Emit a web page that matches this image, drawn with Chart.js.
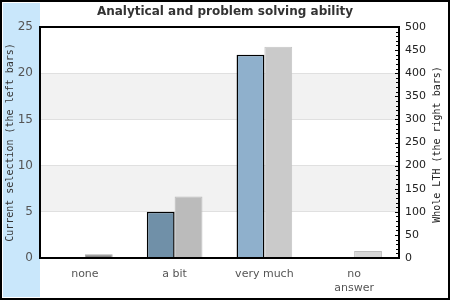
<!DOCTYPE html>
<html>
<head>
<meta charset="utf-8">
<script src="https://cdn.jsdelivr.net/npm/chart.js@4.4.0/dist/chart.umd.min.js"></script>
<style>
  html, body { margin: 0; padding: 0; background: #fff; }
  #wrap { width: 450px; height: 300px; }
</style>
</head>
<body>
<div id="wrap"><canvas id="chart" width="450" height="300"></canvas></div>
<script>
// Analytical and problem solving ability
const categories = ['none', 'a bit', 'very much', ['no', 'answer']];
const currentSelection = [0, 5, 22, 0];      // left axis
const wholeLTH = [8, 133, 457, 15];           // right axis
const leftTicks = [0, 5, 10, 15, 20, 25];
const rightTicks = [0, 50, 100, 150, 200, 250, 300, 350, 400, 450, 500];

const leftColors = ['#8fb0cc', '#7090a8', '#8fb0cc', '#8fb0cc'];
const rightColors = ['#888888', '#bbbbbb', '#cacaca', '#d6d6d6'];
const rightBorders = ['#aaaaaa', '#bbbbbb', '#c4c4c4', '#bdbdbd'];
const rightTitle = 'Whole LTH (the right bars)';

const MONO = '"DejaVu Sans Mono", monospace';
const SANS = '"DejaVu Sans", sans-serif';

// fond bleu, bandes, cadre
const decor = {
  id: 'decor',
  beforeDraw(chart) {
    const { ctx, chartArea: a, scales } = chart;
    ctx.save();
    ctx.fillStyle = '#fff';
    ctx.fillRect(0, 0, chart.width, chart.height);
    ctx.fillStyle = '#c9e7fb';
    ctx.fillRect(3, 3, a.left - 3, 294);
    // bandes grises
    ctx.fillStyle = '#f2f2f2';
    [[5, 10], [15, 20]].forEach(([lo, hi]) => {
      const y1 = scales.y.getPixelForValue(hi), y2 = scales.y.getPixelForValue(lo);
      ctx.fillRect(a.left, y1, a.right - a.left, y2 - y1);
    });
    ctx.restore();
  },
  afterDraw(chart) {
    const { ctx, chartArea: a, scales } = chart;
    ctx.save();
    ctx.strokeStyle = '#000';
    ctx.lineWidth = 1;
    // petits traits de l'axe droit, vers l'intérieur
    for (let v = 0; v <= 500; v += 10) {
      const y = Math.round(scales.y2.getPixelForValue(v)) + 0.5;
      const len = v % 50 === 0 ? 4 : 3;
      ctx.beginPath();
      ctx.moveTo(a.right - len, y);
      ctx.lineTo(a.right, y);
      ctx.stroke();
    }
    ctx.lineWidth = 2;
    ctx.strokeRect(a.left, a.top, a.right - a.left, a.bottom - a.top);
    ctx.strokeRect(1, 1, chart.width - 2, chart.height - 2);
    // titre de l'axe droit, lu de bas en haut
    ctx.translate(437, (a.top + a.bottom) / 2 + 2);
    ctx.rotate(-Math.PI / 2);
    ctx.fillStyle = '#222';
    ctx.font = '10px ' + MONO;
    ctx.textAlign = 'center';
    ctx.textBaseline = 'middle';
    ctx.fillText(rightTitle, 0, 0);
    ctx.restore();
  }
};

new Chart(document.getElementById('chart'), {
  type: 'bar',
  data: {
    labels: categories,
    datasets: [
      {
        label: 'Current selection',
        data: currentSelection,
        yAxisID: 'y',
        backgroundColor: leftColors,
        borderColor: '#000',
        borderWidth: 1.5
      },
      {
        label: 'Whole LTH',
        data: wholeLTH,
        yAxisID: 'y2',
        backgroundColor: rightColors,
        borderColor: rightBorders,
        borderWidth: 1
      }
    ]
  },
  options: {
    responsive: false,
    animation: false,
    layout: { padding: 0 },
    datasets: { bar: { categoryPercentage: 0.62, barPercentage: 1 } },
    plugins: {
      legend: { display: false },
      tooltip: { enabled: false },
      title: {
        display: true,
        text: 'Analytical and problem solving ability',
        color: '#333',
        font: { family: SANS, size: 12, weight: 'bold', lineHeight: 1.2 },
        padding: { top: 5, bottom: 7.6 }
      }
    },
    scales: {
      x: {
        grid: { display: false, drawTicks: false },
        border: { display: false },
        ticks: { color: '#555', font: { family: SANS, size: 11 }, padding: 10, maxRotation: 0 },
        afterFit(s) { s.height = 42; }
      },
      y: {
        position: 'left',
        min: 0, max: 25,
        afterBuildTicks(s) { s.ticks = leftTicks.map(v => ({ value: v })); },
        grid: { color: '#e0e0e0', drawTicks: false },
        border: { display: false },
        ticks: { color: '#555', font: { family: SANS, size: 12 }, padding: 7 },
        title: {
          display: true,
          text: 'Current selection (the left bars)',
          color: '#333',
          font: { family: MONO, size: 10 },
          padding: { top: 4, bottom: 0 }
        },
        afterFit(s) { s.width = 40; }
      },
      y2: {
        position: 'right',
        min: 0, max: 500,
        afterBuildTicks(s) { s.ticks = rightTicks.map(v => ({ value: v })); },
        grid: { drawOnChartArea: false, drawTicks: false },
        border: { display: false },
        ticks: { color: '#222', font: { family: SANS, size: 11 }, padding: 6 },
        afterFit(s) { s.width = 51; }
      }
    }
  },
  plugins: [decor]
});
</script>
</body>
</html>
